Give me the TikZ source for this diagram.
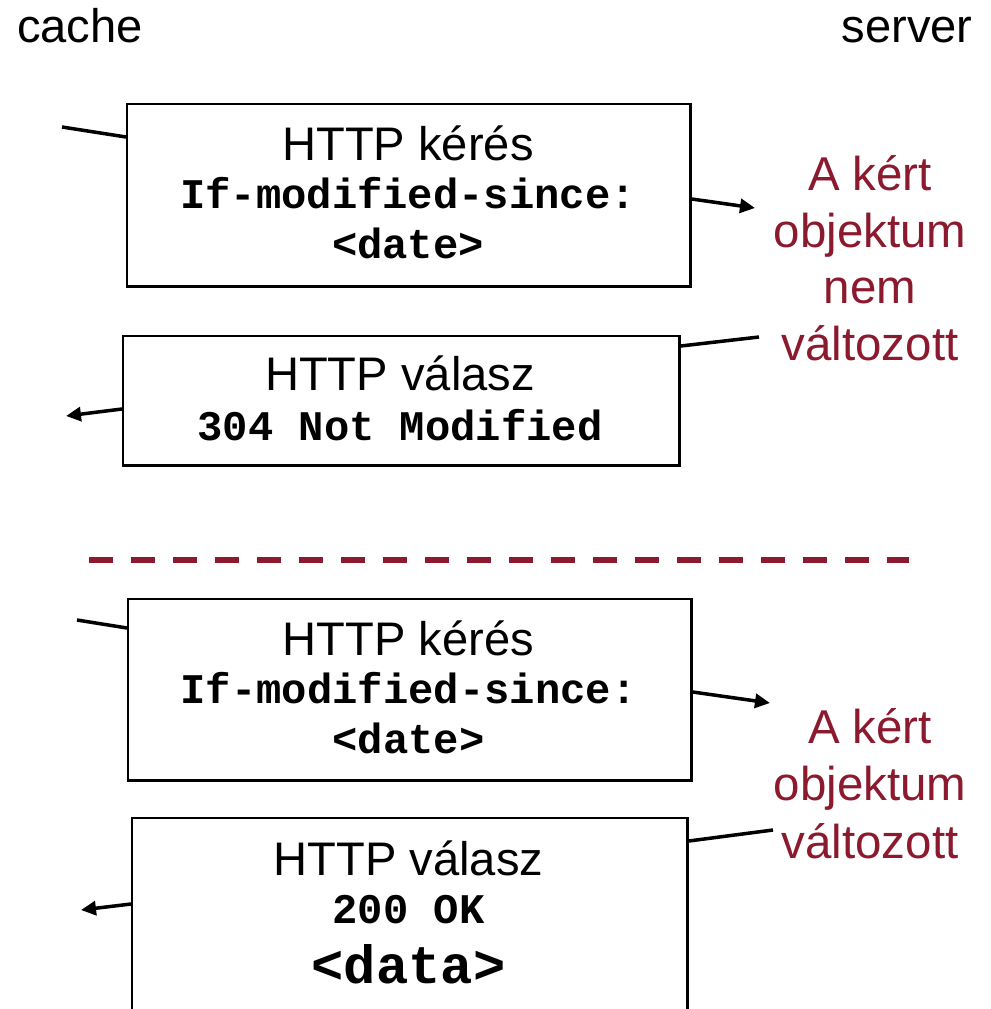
\documentclass[tikz,border=0pt]{standalone}
\usepackage{fontspec}
\setmainfont{Liberation Sans}
\setmonofont{Liberation Mono}
\usetikzlibrary{arrows.meta,calc}
\definecolor{notered}{HTML}{8B1A2E}
\tikzset{
    msgbox/.style={draw, line width=0.7pt, anchor=north west, inner sep=0pt},
    head/.style={anchor=base, font=\fontsize{13.4}{15}\selectfont},
    code/.style={anchor=base, font=\fontsize{12}{14}\selectfont\ttfamily\bfseries},
    note/.style={anchor=base, text=notered, font=\fontsize{13.5}{15}\selectfont},
    link/.style={line width=1pt},
    msg/.style={line width=1pt, -{Triangle[length=0.15cm,width=0.14cm]}},
}
\begin{document}
\begin{tikzpicture}[x=0.01cm, y=-0.01cm]
    \useasboundingbox (0,0) rectangle (990,1009);
    \clip (0,0) rectangle (990,1009);

    % Ends
    \node[head] (cache) at (80,42) {cache};
    \node[head] (server) at (907,42) {server};

    % Object not modified
    \node[msgbox, minimum width=5.63cm, minimum height=1.82cm] (req1) at (126,103) {};
    \node[head] (req1a) at (408,160) {HTTP kérés};
    \node[code] (req1b) at (408,208) {If-modified-since:};
    \node[code] (req1c) at (408,258) {<date>};
    \coordinate (c1) at (62,127);
    \coordinate (a1) at (755,208);
    \draw[link] (c1) -- ($(req1.north west)+(0,34)$);
    \draw[msg] ($(req1.north east)+(0,96)$) -- (a1);

    \node[note] (note1a) at (870,190) {A kért};
    \node[note] (note1b) at (870,247) {objektum};
    \node[note] (note1c) at (870,303) {nem};
    \node[note] (note1d) at (870,360) {változott};

    \node[msgbox, minimum width=5.56cm, minimum height=1.29cm] (resp1) at (122,335) {};
    \node[head] (resp1a) at (400,390) {HTTP válasz};
    \node[code] (resp1b) at (400,440) {304 Not Modified};
    \coordinate (c2) at (759,337);
    \coordinate (a2) at (66,416);
    \draw[link] (c2) -- ($(resp1.north east)+(0,11)$);
    \draw[msg] ($(resp1.north west)+(0,74)$) -- (a2);

    % Separator
    \coordinate (sepl) at (89,560);
    \coordinate (sepr) at (909,560);
    \draw[notered, line width=0.06cm, dash pattern=on 0.235cm off 0.185cm] (sepl) -- (sepr);

    % Object modified
    \node[msgbox, minimum width=5.63cm, minimum height=1.81cm] (req2) at (127,598) {};
    \node[head] (req2a) at (408.5,655) {HTTP kérés};
    \node[code] (req2b) at (408.5,703) {If-modified-since:};
    \node[code] (req2c) at (408.5,753) {<date>};
    \coordinate (c3) at (77,620);
    \coordinate (a3) at (770,703);
    \draw[link] (c3) -- ($(req2.north west)+(0,30)$);
    \draw[msg] ($(req2.north east)+(0,94)$) -- (a3);

    \node[note] (note2a) at (870,743) {A kért};
    \node[note] (note2b) at (870,800) {objektum};
    \node[note] (note2c) at (870,858) {változott};

    \node[msgbox, minimum width=5.55cm, minimum height=2.2cm] (resp2) at (131,817) {};
    \node[head] (resp2a) at (408.5,875) {HTTP válasz};
    \node[code] (resp2b) at (408.5,923) {200 OK};
    \node[code, font=\fontsize{15.3}{18}\selectfont\ttfamily\bfseries] (resp2c) at (408.5,983) {<data>};
    \coordinate (c4) at (773,830);
    \coordinate (a4) at (81,910);
    \draw[link] (c4) -- ($(resp2.north east)+(0,24)$);
    \draw[msg] ($(resp2.north west)+(0,87)$) -- (a4);
\end{tikzpicture}
\end{document}
